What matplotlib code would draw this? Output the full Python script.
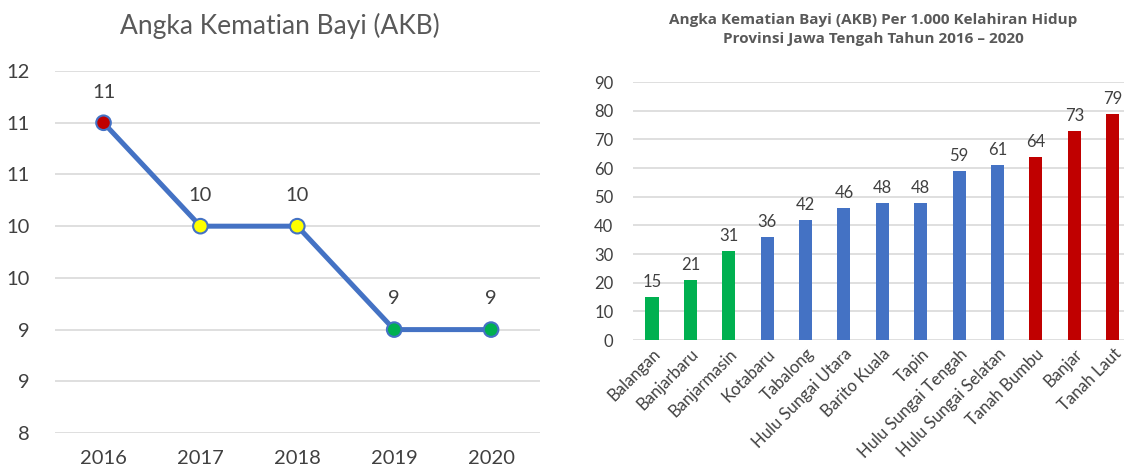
import matplotlib
matplotlib.use("Agg")
import matplotlib.pyplot as plt

plt.rcParams['font.family'] = ['Lato', 'DejaVu Sans']

# left chart data
years = ["2016", "2017", "2018", "2019", "2020"]
akb_values = [11, 10, 10, 9, 9]
marker_colors = ["#C00000", "#FFFF00", "#FFFF00", "#00B050", "#00B050"]
left_ticks = [8, 8.5, 9, 9.5, 10, 10.5, 11, 11.5]
left_tick_labels = ["8", "9", "9", "10", "10", "11", "11", "12"]

# right chart data
regions = ["Balangan", "Banjarbaru", "Banjarmasin", "Kotabaru", "Tabalong",
           "Hulu Sungai Utara", "Barito Kuala", "Tapin", "Hulu Sungai Tengah",
           "Hulu Sungai Selatan", "Tanah Bumbu", "Banjar", "Tanah Laut"]
region_values = [15, 21, 31, 36, 42, 46, 48, 48, 59, 61, 64, 73, 79]
bar_colors = ["#00B050"] * 3 + ["#4472C4"] * 7 + ["#C00000"] * 3

TEXT = "#404040"
GRID = "#D9D9D9"

fig = plt.figure(figsize=(11.24, 4.75), dpi=100)

# ---- left: line chart
ax1 = fig.add_axes([0.049, 0.0884, 0.431, 0.762])
xs = range(len(years))
ax1.plot(xs, akb_values, color="#4472C4", lw=3.6, zorder=3)
ax1.scatter(xs, akb_values, s=110, c=marker_colors, edgecolors="#4472C4",
            linewidths=1.5, zorder=4)
for x, v in zip(xs, akb_values):
    ax1.annotate(str(v), (x, v), xytext=(0, 16), textcoords="offset points",
                 ha="center", va="bottom", fontsize=14.5, color=TEXT)
ax1.set_xlim(-0.5, 4.5)
ax1.set_ylim(8, 11.5)
ax1.set_yticks(left_ticks)
ax1.set_yticklabels(left_tick_labels)
ax1.set_xticks(list(xs))
ax1.set_xticklabels(years)
ax1.grid(axis="y", color=GRID, lw=1.2)
ax1.set_axisbelow(True)
for s in ax1.spines.values():
    s.set_visible(False)
ax1.tick_params(length=0, labelsize=14.5, labelcolor=TEXT)
ax1.tick_params(axis="y", pad=18)
ax1.tick_params(axis="x", pad=12)
fig.text(0.249, 0.945, "Angka Kematian Bayi (AKB)", ha="center", va="center",
         fontsize=19, color="#595959")

# ---- right: bar chart
ax2 = fig.add_axes([0.563, 0.284, 0.444, 0.543])
bx = range(len(regions))
ax2.bar(bx, region_values, width=0.34, color=bar_colors, zorder=3)
for x, v in zip(bx, region_values):
    ax2.annotate(str(v), (x, v), xytext=(0, 5), textcoords="offset points",
                 ha="center", va="bottom", fontsize=12, color=TEXT)
ax2.set_xlim(-0.5, len(regions) - 0.5)
ax2.set_ylim(0, 90)
ax2.set_yticks(range(0, 91, 10))
ax2.set_xticks(list(bx))
ax2.set_xticklabels(regions, rotation=45, ha="right", rotation_mode="anchor")
ax2.grid(axis="y", color=GRID, lw=1.2)
ax2.set_axisbelow(True)
for s in ax2.spines.values():
    s.set_visible(False)
ax2.tick_params(length=0, labelsize=12, labelcolor=TEXT)
ax2.tick_params(axis="y", pad=14)
ax2.tick_params(axis="x", pad=4)
fig.text(0.777, 0.938, "Angka Kematian Bayi (AKB) Per 1.000 Kelahiran Hidup\nProvinsi Jawa Tengah Tahun 2016 \u2013 2020",
         ha="center", va="center", fontsize=11, fontweight="bold",
         family=["Open Sans", "DejaVu Sans"], color="#595959", linespacing=1.4)

fig.savefig("out.png", dpi=100)
